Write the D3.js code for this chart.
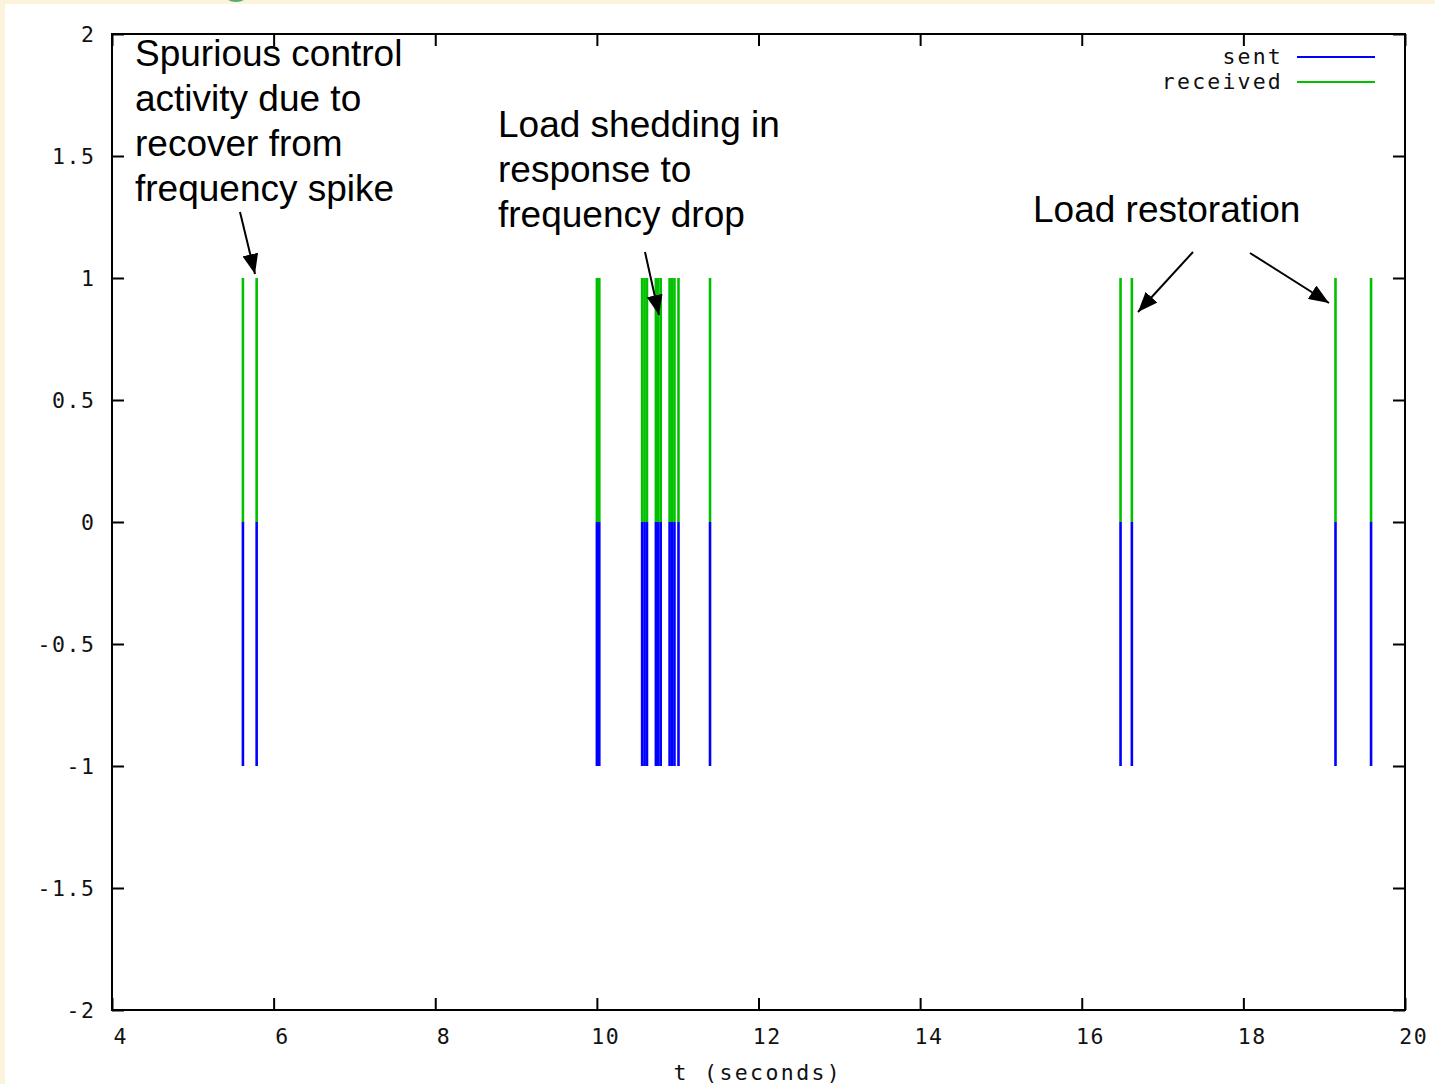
<!DOCTYPE html>
<html><head><meta charset="utf-8">
<script src="https://cdn.jsdelivr.net/npm/d3@7"></script>
<style>
html,body{margin:0;padding:0;background:#fcf3dc;}
svg{display:block;}
</style></head>
<body>
<svg id="chart" width="1435" height="1084"></svg>
<script>
// ---- data ----
const xTicks = [4, 6, 8, 10, 12, 14, 16, 18, 20];
const yTicks = [2, 1.5, 1, 0.5, 0, -0.5, -1, -1.5, -2];
const yTickLabels = ["2", "1.5", "1", "0.5", "0", "-0.5", "-1", "-1.5", "-2"];
const sentT = [5.62, 5.79, 10.00, 10.03, 10.56, 10.59, 10.62, 10.73, 10.76, 10.79, 10.90, 10.93, 10.96, 11.01, 11.40, 16.48, 16.62, 19.14, 19.58];
const sentV = [-1, -1, -1, -1, -1, -1, -1, -1, -1, -1, -1, -1, -1, -1, -1, -1, -1, -1, -1];
const receivedT = [5.62, 5.79, 10.00, 10.03, 10.56, 10.59, 10.62, 10.73, 10.76, 10.79, 10.90, 10.93, 10.96, 11.01, 11.40, 16.48, 16.62, 19.14, 19.58];
const receivedV = [1, 1, 1, 1, 1, 1, 1, 1, 1, 1, 1, 1, 1, 1, 1, 1, 1, 1, 1];
const seriesNames = ["sent", "received"];
const xLabel = "t (seconds)";
const annotations = [
  {lines: ["Spurious control", "activity due to", "recover from", "frequency spike"]},
  {lines: ["Load shedding in", "response to", "frequency drop"]},
  {lines: ["Load restoration"]}
];

// ---- layout ----
const svg = d3.select("#chart");
const L = 112, R = 1405, T = 34, B = 1010;
const x = d3.scaleLinear().domain([4, 20]).range([L, R]);
const y = d3.scaleLinear().domain([-2, 2]).range([B, T]);
const mono = "'DejaVu Sans Mono', 'Liberation Mono', monospace";
const sans = "'Liberation Sans', Arial, sans-serif";
const colors = {sent: "#0000ff", received: "#00c000"};
const fs = 21.5, ls = 1.6;

// background
svg.append("rect").attr("x", 0).attr("y", 0).attr("width", 1435).attr("height", 1084).attr("fill", "#fcf3dc");
svg.append("ellipse").attr("cx", 236).attr("cy", -6).attr("rx", 12).attr("ry", 8).attr("fill", "#5aa873");
svg.append("rect").attr("x", 5).attr("y", 4).attr("width", 1430).attr("height", 1080).attr("fill", "#ffffff");

// impulses
const g = svg.append("g");
function impulses(ts, vs, color) {
  g.selectAll(null).data(ts.map((t, i) => ({t, v: vs[i]}))).enter().append("line")
    .attr("x1", d => x(d.t)).attr("x2", d => x(d.t))
    .attr("y1", y(0)).attr("y2", d => y(d.v))
    .attr("stroke", color).attr("stroke-width", 2.6);
}
impulses(receivedT, receivedV, colors.received);
impulses(sentT, sentV, colors.sent);

// axes with inward ticks, mirrored
const tickLen = 12;
const axB = d3.axisBottom(x).tickValues(xTicks).tickSize(-tickLen).tickFormat("");
const axT = d3.axisTop(x).tickValues(xTicks).tickSize(-tickLen).tickFormat("");
const axL = d3.axisLeft(y).tickValues(yTicks).tickSize(-tickLen).tickFormat("");
const axR = d3.axisRight(y).tickValues(yTicks).tickSize(-tickLen).tickFormat("");
function styleAxis(sel) {
  sel.select(".domain").remove();
  sel.selectAll(".tick line").attr("stroke", "#000").attr("stroke-width", 2);
}
svg.append("g").attr("transform", `translate(0,${B})`).call(axB).call(styleAxis);
svg.append("g").attr("transform", `translate(0,${T})`).call(axT).call(styleAxis);
svg.append("g").attr("transform", `translate(${L},0)`).call(axL).call(styleAxis);
svg.append("g").attr("transform", `translate(${R},0)`).call(axR).call(styleAxis);
svg.append("rect").attr("x", L).attr("y", T).attr("width", R - L).attr("height", B - T)
  .attr("fill", "none").attr("stroke", "#000").attr("stroke-width", 2);

// tick labels
svg.append("g").selectAll("text").data(xTicks).enter().append("text")
  .attr("x", d => x(d) + 8 + ls / 2).attr("y", 1044)
  .attr("text-anchor", "middle").attr("font-family", mono).attr("font-size", fs)
  .attr("letter-spacing", ls).attr("fill", "#111").text(d => String(d));
svg.append("g").selectAll("text").data(yTicks).enter().append("text")
  .attr("x", 94 + ls).attr("y", d => y(d) + 8)
  .attr("text-anchor", "end").attr("font-family", mono).attr("font-size", fs)
  .attr("letter-spacing", ls).attr("fill", "#111").text((d, i) => yTickLabels[i]);
svg.append("text").attr("x", 757 + ls / 2).attr("y", 1080)
  .attr("text-anchor", "middle").attr("font-family", mono).attr("font-size", fs)
  .attr("letter-spacing", 2.4).attr("fill", "#111").text(xLabel);

// legend
seriesNames.forEach((name, i) => {
  const ly = 57 + i * 25;
  svg.append("text").attr("x", 1281 + 2).attr("y", ly + 7).attr("text-anchor", "end")
    .attr("font-family", mono).attr("font-size", fs).attr("letter-spacing", 2.2)
    .attr("fill", "#111").text(name);
  svg.append("line").attr("x1", 1297).attr("x2", 1375).attr("y1", ly).attr("y2", ly)
    .attr("stroke", colors[name]).attr("stroke-width", 2.2);
});

// annotations
const annPos = [{x: 135, y: 66}, {x: 498, y: 137}, {x: 1033, y: 222}];
annotations.forEach((a, i) => {
  const t = svg.append("text").attr("font-family", sans).attr("font-size", 37).attr("fill", "#000");
  a.lines.forEach((ln, j) => {
    t.append("tspan").attr("x", annPos[i].x).attr("y", annPos[i].y + j * 45).text(ln);
  });
});

// arrows
const defs = svg.append("defs");
defs.append("marker").attr("id", "ah").attr("viewBox", "0 0 20 16").attr("refX", 20).attr("refY", 8)
  .attr("markerWidth", 20).attr("markerHeight", 16).attr("markerUnits", "userSpaceOnUse")
  .attr("orient", "auto").append("path").attr("d", "M0,0 L20,8 L0,16 Z").attr("fill", "#000");
const arrows = [
  [240, 212, 255, 274],
  [645, 252, 659, 315],
  [1193, 252, 1138, 312],
  [1250, 253, 1329, 303]
];
svg.append("g").selectAll("line").data(arrows).enter().append("line")
  .attr("x1", d => d[0]).attr("y1", d => d[1]).attr("x2", d => d[2]).attr("y2", d => d[3])
  .attr("stroke", "#000").attr("stroke-width", 2).attr("marker-end", "url(#ah)");
</script>
</body></html>
